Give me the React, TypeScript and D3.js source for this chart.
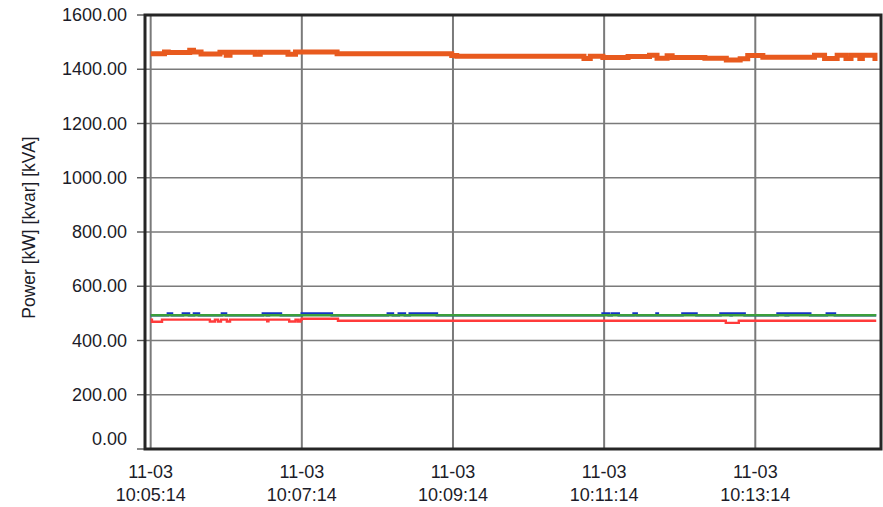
import React from 'react';
import * as d3 from 'd3';

// ---- chart data -------------------------------------------------------
const dateLabel = '11-03';
const xTickTimes = ['10:05:14', '10:07:14', '10:09:14', '10:11:14', '10:13:14'];
const xDomainTimes = ['10:05:09.5', '10:14:53.8'];
const seriesStart = '10:05:14';

const yTicks = [0, 200, 400, 600, 800, 1000, 1200, 1400, 1600];
const yDomain = [0, 1600];
const yTitle = 'Power [kW] [kvar] [kVA]';

// Total power (step samples: seconds after seriesStart, value)
const totalT = [0, 11, 14, 31, 34, 40, 55, 60, 63, 83, 87, 109, 115, 148, 239, 243, 344, 349, 359, 379, 396, 402, 410, 414, 440, 457, 468, 474, 486, 527, 535, 545, 552, 556, 563, 565, 575, 577];
const totalV = [1457, 1464, 1462, 1470, 1464, 1456, 1463, 1452, 1463, 1455, 1463, 1455, 1464, 1457, 1451, 1448, 1440, 1448, 1443, 1447, 1452, 1441, 1450, 1443, 1441, 1434, 1439, 1451, 1444, 1452, 1440, 1452, 1440, 1452, 1440, 1452, 1440, 1440];

// Phase L1
const l1T = [0, 576];
const l1V = [493, 493];

// Phase L2
const l2T = [0, 13.7, 16.9, 25.6, 30.4, 34.4, 38.3, 56.6, 59.8, 89.1, 92.3, 93.9, 103.4, 120, 143.8, 188.3, 192.3, 197, 201.8, 205.7, 227.2, 358.8, 363.6, 366, 371.6, 383.4, 385.8, 401.6, 402.6, 422.2, 433.3, 452.4, 460.4, 461.2, 471.5, 497.7, 504.1, 506.1, 523.6, 536.8, 543.2, 576];
const l2V = [493, 499, 493, 499, 493, 499, 493, 499, 493, 499, 493, 499, 493, 499, 493, 499, 493, 499, 493, 499, 493, 499, 493, 499, 493, 499, 493, 499, 493, 499, 493, 499, 493, 499, 493, 499, 493, 499, 493, 499, 493, 493];

// Phase L3
const l3T = [0, 1, 9, 47, 51, 53.4, 55.8, 60.5, 63, 92.5, 93.5, 110, 115, 117, 119, 120, 148.7, 456.6, 466.9, 576];
const l3V = [477, 469, 477, 470, 477, 470, 477, 470, 477, 471, 477, 470, 477, 470, 477, 480, 473, 465, 473, 473];

// ---- helpers ----------------------------------------------------------
const toSec = (s: string) => {
  const [h, m, sec] = s.split(':').map(Number);
  return h * 3600 + m * 60 + sec;
};

const W = 883;
const H = 507;
const plot = { left: 145, right: 881, top: 15, bottom: 449 };

const x = d3
  .scaleLinear()
  .domain(xDomainTimes.map(toSec))
  .range([plot.left, plot.right]);
const y = d3.scaleLinear().domain(yDomain).range([plot.bottom, plot.top]);

const t0 = toSec(seriesStart);

type Pt = { t: number; v: number };
const zip = (ts: number[], vs: number[]): Pt[] => ts.map((t, i) => ({ t, v: vs[i] }));

const line = d3
  .line<Pt>()
  .x((d) => x(t0 + d.t))
  .y((d) => y(d.v))
  .curve(d3.curveStepAfter);

const series = [
  { key: 'l3', pts: zip(l3T, l3V), color: '#ff3b3b', width: 2.4 },
  { key: 'l2', pts: zip(l2T, l2V), color: '#1434c4', width: 2.6 },
  { key: 'l1', pts: zip(l1T, l1V), color: '#3c9e3c', width: 2.4 },
  { key: 'total', pts: zip(totalT, totalV), color: '#e85a1e', width: 5 },
];

const font = '"Liberation Sans", Arial, sans-serif';
const textColor = '#1c1c28';

export default function App() {
  return (
    <svg
      width={W}
      height={H}
      style={{ position: 'fixed', left: 0, top: 0, background: '#fff' }}
      fontFamily={font}
    >
      <rect x={0} y={0} width={W} height={H} fill="#fff" />

      {/* horizontal grid + y ticks */}
      {yTicks.map((v) => (
        <g key={`y${v}`}>
          <line x1={plot.left} x2={plot.right} y1={y(v)} y2={y(v)} stroke="#7a7a7a" strokeWidth={1.6} />
          <line x1={137} x2={plot.left} y1={y(v)} y2={y(v)} stroke="#555" strokeWidth={1.4} />
          <text
            x={127}
            y={y(v) + (v === 0 ? -10 : 0)}
            textAnchor="end"
            dominantBaseline="central"
            fontSize={18}
            fill={textColor}
          >
            {v.toFixed(2)}
          </text>
        </g>
      ))}

      {/* vertical grid + x labels */}
      {xTickTimes.map((s) => {
        const xp = x(toSec(s));
        return (
          <g key={s}>
            <line x1={xp} x2={xp} y1={plot.top} y2={plot.bottom} stroke="#7a7a7a" strokeWidth={2} />
            <text x={xp} y={477.5} textAnchor="middle" fontSize={18} fill={textColor}>
              {dateLabel}
            </text>
            <text x={xp} y={500.5} textAnchor="middle" fontSize={18} fill={textColor}>
              {s}
            </text>
          </g>
        );
      })}

      {/* data lines */}
      {series.map((s) => (
        <path key={s.key} d={line(s.pts) ?? ''} fill="none" stroke={s.color} strokeWidth={s.width} />
      ))}

      {/* frame */}
      <rect
        x={plot.left}
        y={plot.top}
        width={plot.right - plot.left}
        height={plot.bottom - plot.top}
        fill="none"
        stroke="#262626"
        strokeWidth={3}
      />

      {/* y-axis title */}
      <text
        transform={`translate(35, 227.5) rotate(-90)`}
        textAnchor="middle"
        fontSize={17.5}
        fill={textColor}
      >
        {yTitle}
      </text>
    </svg>
  );
}
